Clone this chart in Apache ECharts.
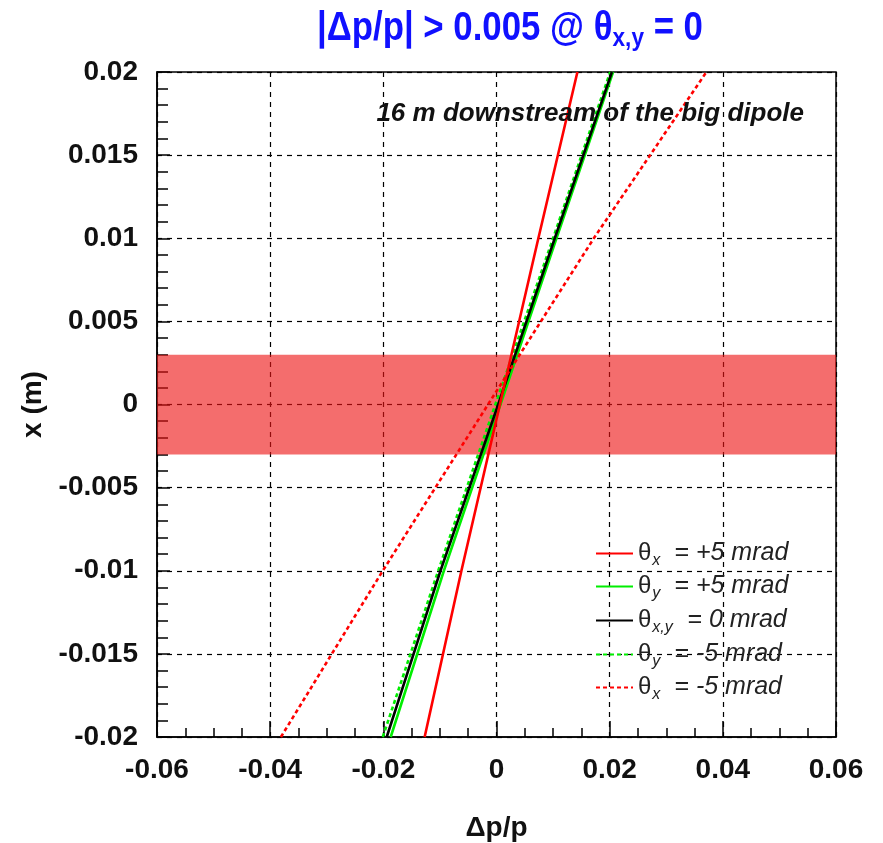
<!DOCTYPE html>
<html>
<head>
<meta charset="utf-8">
<script src="https://cdn.jsdelivr.net/npm/echarts@6/dist/echarts.min.js"></script>
<style>html,body{margin:0;padding:0;background:#fff;overflow:hidden;width:883px;height:843px}#c{position:absolute;left:0;top:0;width:883px;height:843px}</style>
</head>
<body>
<div id="c"></div>
<script>
// x (m) levels at which the Δp/p values were read
const xLevels = [-0.02, -0.01, 0, 0.01, 0.02];
// Δp/p values for each trajectory
const thetaXplus5  = [-0.0127, -0.0062, 0.0006, 0.0074, 0.0143];
const thetaYplus5  = [-0.0187, -0.0093, 0.0007, 0.0106, 0.0206];
const thetaXY0     = [-0.0194, -0.0099, 0.0003, 0.0103, 0.0204];
const thetaYminus5 = [-0.0201, -0.0103, -0.0002, 0.0100, 0.0201];
const thetaXminus5 = [-0.0381, -0.0201, -0.0015, 0.0172, 0.0371];
// acceptance band in x (m)
const band = [-0.003, 0.003];
const xTicks = [-0.06, -0.04, -0.02, 0, 0.02, 0.04, 0.06];
const yTicks = [-0.02, -0.015, -0.01, -0.005, 0, 0.005, 0.01, 0.015, 0.02];

const names = ['θx+5', 'θy+5', 'θxy0', 'θy-5', 'θx-5'];
const labelsRich = {
  'θx+5': '{t|θ}{s|x}{m|= +5 mrad}',
  'θy+5': '{t|θ}{s|y}{m|= +5 mrad}',
  'θxy0': '{t|θ}{s2|x,y}{m|= 0 mrad}',
  'θy-5': '{t|θ}{s|y}{m|= -5 mrad}',
  'θx-5': '{t|θ}{s|x}{m|= -5 mrad}'
};
function pts(arr){ return arr.map((v,i)=>[v, xLevels[i]]); }
const FF = '"Liberation Sans", Arial, sans-serif';

const chart = echarts.init(document.getElementById('c'), null, {width:883, height:843});
const mkLine = (name, arr, color, type, z) => ({
  name, type:'line', data: pts(arr), symbol:'none', z,
  lineStyle:{color, width:2.6, type}, itemStyle:{color}
});
const legendTops = [541, 574, 608, 642, 675];
const rich = {
  t:{fontSize:24, fontFamily:FF, color:'#222'},
  s:{fontSize:16, fontFamily:FF, fontStyle:'italic', color:'#222', padding:[15,0,0,1], width:22},
  s2:{fontSize:16, fontFamily:FF, fontStyle:'italic', color:'#222', padding:[15,0,0,1], width:35},
  m:{fontSize:25, fontFamily:FF, fontStyle:'italic', color:'#222'}
};
chart.setOption({
  animation:false,
  backgroundColor:'#fff',
  grid:{left:157, right:47, top:72, bottom:106, outerBoundsMode:'none', containLabel:false,
    show:true, borderColor:'#000', borderWidth:1.5, backgroundColor:'transparent'},
  xAxis:{
    type:'value', min:xTicks[0], max:xTicks[xTicks.length-1], interval:0.02,
    name:'Δp/p', nameLocation:'middle', nameGap:77,
    nameTextStyle:{fontSize:28, fontWeight:'bold', fontFamily:FF, color:'#111'},
    axisLine:{onZero:false, lineStyle:{color:'#000', width:1.5}},
    axisTick:{inside:true, length:16, lineStyle:{color:'#000', width:1.5}},
    minorTick:{show:true, splitNumber:4, length:9, lineStyle:{color:'#000', width:1.5}},
    splitLine:{show:true, lineStyle:{color:'#000', type:[5,5], width:1.2}},
    axisLabel:{fontSize:28, fontWeight:'bold', fontFamily:FF, color:'#111', margin:19,
      formatter:v=>String(Math.round(v*1000)/1000)}
  },
  yAxis:{
    type:'value', min:yTicks[0], max:yTicks[yTicks.length-1], interval:0.005,
    name:'x (m)', nameLocation:'middle', nameGap:110,
    nameTextStyle:{fontSize:28, fontWeight:'bold', fontFamily:FF, color:'#111'},
    axisLine:{onZero:false, lineStyle:{color:'#000', width:1.5}},
    axisTick:{inside:true, length:13, lineStyle:{color:'#000', width:1.5}},
    minorTick:{show:true, splitNumber:5, length:11, lineStyle:{color:'#000', width:1.5}},
    splitLine:{show:true, lineStyle:{color:'#000', type:[5,5], width:1.2}},
    axisLabel:{fontSize:28, fontWeight:'bold', fontFamily:FF, color:'#111', margin:19,
      formatter:v=>String(Math.round(v*10000)/10000)}
  },
  legend: names.map((n,i)=>({
    data:[n], left:595, top:legendTops[i], padding:0, itemWidth:37, itemHeight:14, itemGap:0,
    itemStyle:{opacity:0},
    formatter:name=>labelsRich[name],
    textStyle:{rich}
  })),
  graphic:[{
    type:'text', x:510, y:6, z:10, scaleX:0.87, originX:0,
    style:{
      text:'{a||Δp/p| > 0.005 @ θ}{b|x,y}{a| = 0}', align:'center',
      rich:{
        a:{fontSize:40, fontWeight:'bold', fontFamily:FF, fill:'#1010ff'},
        b:{fontSize:26, fontWeight:'bold', fontFamily:FF, fill:'#1010ff', padding:[20,0,0,0]}
      }
    }
  },{
    type:'text', right:79, top:101, z:10,
    style:{text:'16 m downstream of the big dipole', fontSize:26, fontWeight:'bold', fontStyle:'italic', fontFamily:FF, fill:'#111'}
  }],
  series:[
    {type:'line', data:[], silent:true, z:1,
     markArea:{silent:true, itemStyle:{color:'rgba(238,20,20,0.62)'},
       data:[[{xAxis:xTicks[0], yAxis:band[0]},{xAxis:xTicks[xTicks.length-1], yAxis:band[1]}]]}},
    mkLine(names[1], thetaYplus5, '#00ee00', 'solid', 3),
    mkLine(names[3], thetaYminus5, '#00ee00', [4,3], 4),
    mkLine(names[2], thetaXY0, '#000000', 'solid', 5),
    mkLine(names[0], thetaXplus5, '#ff0000', 'solid', 6),
    mkLine(names[4], thetaXminus5, '#ff0000', [4,3], 7)
  ]
});
</script>
</body>
</html>
